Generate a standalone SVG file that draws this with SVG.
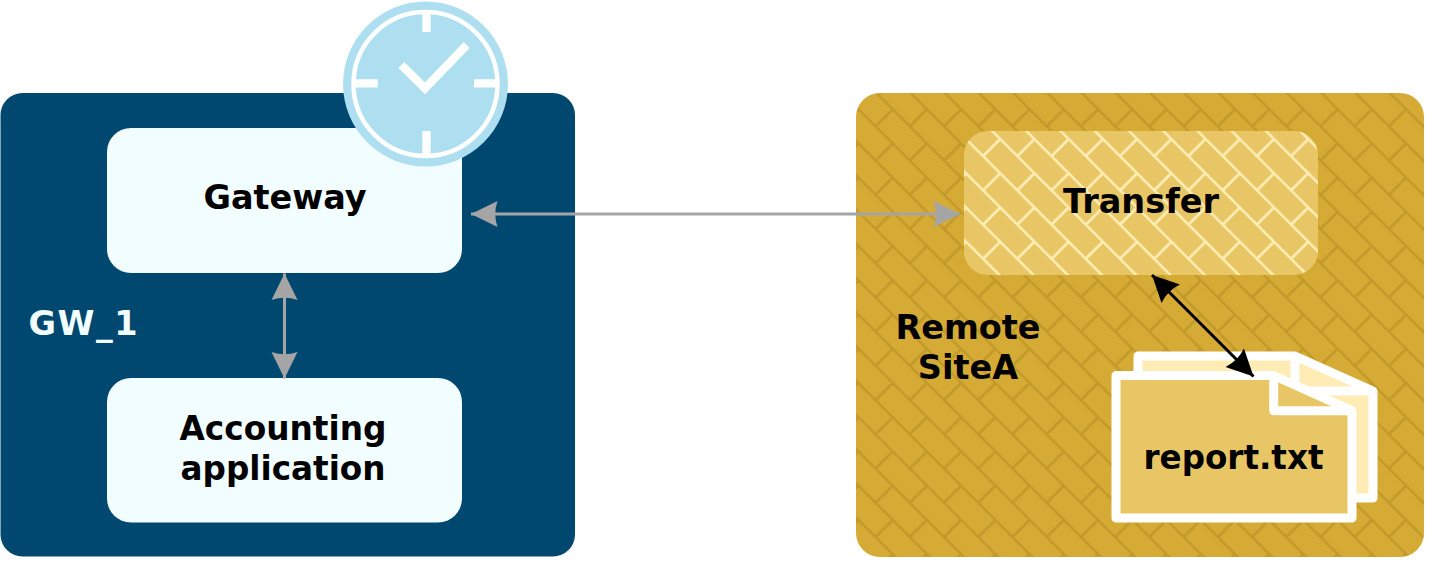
<svg xmlns="http://www.w3.org/2000/svg" width="1456" height="575" viewBox="0 0 1456 575">
<style>
text{font-family:"DejaVu Sans",Verdana,sans-serif;font-weight:700;font-size:33.5px;fill:#000}
.c{text-anchor:middle}
.w{fill:#f2fdff}
.box{fill:#f2fdff}
.doc{stroke:#fff;stroke-width:9;stroke-linejoin:round}
.grey{fill:none;stroke:#a5a5a5;stroke-width:3;marker-start:url(#ag);marker-end:url(#ag)}
.black{fill:none;stroke:#000;stroke-width:3;marker-start:url(#ak);marker-end:url(#ak)}
.tick{stroke:#fff;stroke-width:8.3;fill:none}
</style>
<defs>
<marker id="ag" markerUnits="userSpaceOnUse" markerWidth="30" markerHeight="30" refX="27" refY="15" orient="auto-start-reverse" viewBox="0 0 30 30"><path d="M27,15L0.5,2Q5,15 0.5,28Z" fill="#a5a5a5"/></marker>
<marker id="ak" markerUnits="userSpaceOnUse" markerWidth="30" markerHeight="30" refX="27" refY="15" orient="auto-start-reverse" viewBox="0 0 30 30"><path d="M27,15L0.5,2Q5,15 0.5,28Z" fill="#000"/></marker>
<pattern id="bo" patternUnits="userSpaceOnUse" width="48.4" height="48.4" patternTransform="translate(856 93) rotate(45) translate(1.24 -2.4)">
<rect width="48.4" height="48.4" fill="#d6ab35"/>
<path d="M0,12.1H48.4M0,36.3H48.4M12,12.1V36.3M36.2,36.3V48.4M36.2,0V12.1" stroke="#c29a2a" stroke-width="2.7" fill="none"/>
</pattern>
<pattern id="bi" patternUnits="userSpaceOnUse" width="48.4" height="48.4" patternTransform="translate(964 131) rotate(45) translate(-4.9 -7.83)">
<rect width="48.4" height="48.4" fill="#e9c665"/>
<path d="M0,12.1H48.4M0,36.3H48.4M12,12.1V36.3M36.2,36.3V48.4M36.2,0V12.1" stroke="#ffeeb5" stroke-width="2.7" fill="none"/>
</pattern>
</defs>
<g id="GW_1">
<rect x="0.5" y="93" width="574.5" height="463.5" rx="22" fill="#004870"/>
<text class="w" x="28.500" y="335" textLength="109" lengthAdjust="spacing">GW_1</text>
</g>
<g id="Gateway">
<rect class="box" x="107" y="128" width="355" height="145" rx="24"/>
<text class="c" x="285" y="209">Gateway</text>
</g>
<g id="Accounting">
<rect class="box" x="107" y="378" width="355" height="144.500" rx="24"/>
<text class="c" x="283" y="440" textLength="207" lengthAdjust="spacingAndGlyphs">Accounting</text>
<text class="c" x="283" y="480" textLength="205" lengthAdjust="spacingAndGlyphs">application</text>
</g>
<g id="Clock">
<circle cx="425.500" cy="84" r="82.500" fill="#aedff1"/>
<circle cx="425.500" cy="84" r="72" fill="none" stroke="#fff" stroke-width="4.500"/>
<path class="tick" d="M426.500,13V32M426.500,131V155M355,83.300H377.700M474,83.300H497M401.300,65L425,88.300L466.700,45"/>
</g>
<g id="RemoteSiteA">
<rect x="856" y="93" width="568" height="464" rx="24" fill="url(#bo)"/>
<text class="c" x="968" y="339">Remote</text>
<text class="c" x="968" y="379">SiteA</text>
</g>
<g id="Transfer">
<rect x="964" y="131" width="354" height="144" rx="24" fill="url(#bi)"/>
<text class="c" x="1141" y="213">Transfer</text>
</g>
<g id="report">
<path class="doc" d="M1138,356H1295L1373,391V498H1138Z" fill="#ffecb5"/>
<path class="doc" d="M1295,356V391H1373" fill="none"/>
<path class="doc" d="M1116,375.500H1273.700L1352,410.700V518H1116Z" fill="#e9c665"/>
<path class="doc" d="M1273.700,375.500V410.700H1352" fill="none"/>
<text class="c" x="1233.500" y="469" textLength="180" lengthAdjust="spacingAndGlyphs">report.txt</text>
</g>
<g id="connectors">
<path class="grey" d="M471,214H960"/>
<path class="grey" d="M284.500,273.500V378.500"/>
<path class="black" d="M1152,275L1253.500,376.500"/>
</g>
</svg>
